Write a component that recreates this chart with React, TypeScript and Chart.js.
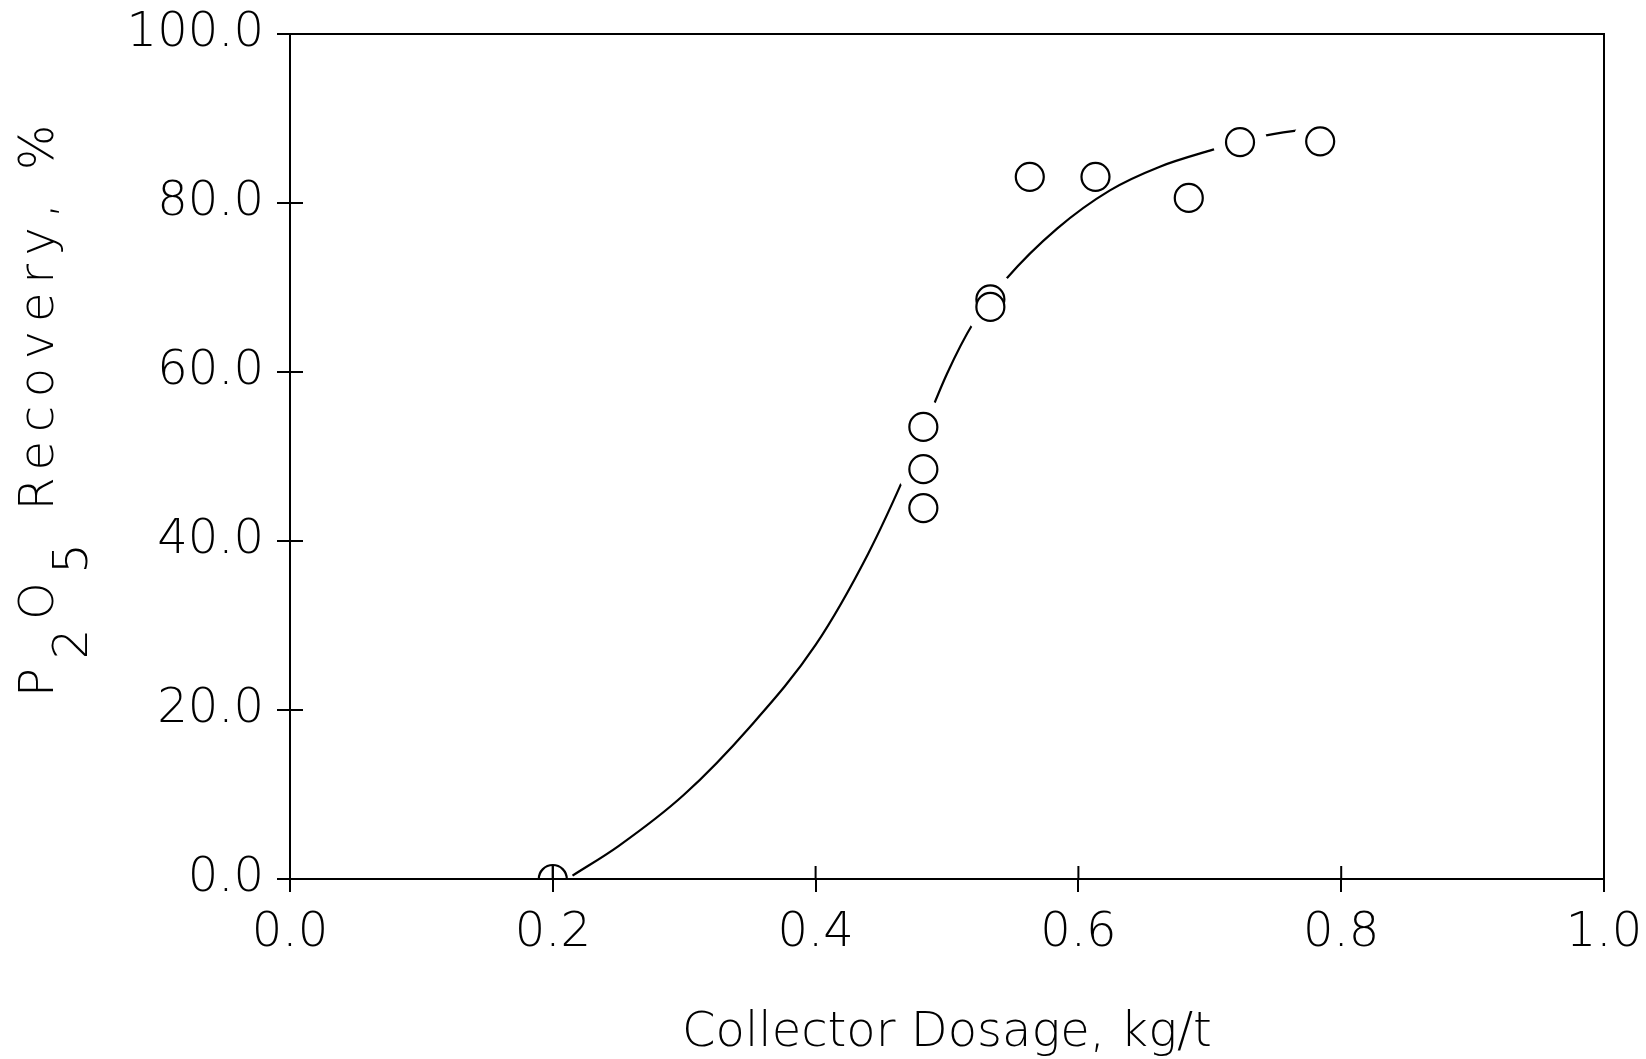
import React, { useEffect, useRef } from 'react';
import { Chart, registerables } from 'chart.js';

Chart.register(...registerables);

// Measured data points (Collector dosage kg/t vs P2O5 recovery %)
const dosage = [0.2, 0.482, 0.482, 0.482, 0.533, 0.533, 0.563, 0.613, 0.684, 0.723, 0.784];
const recovery = [0.0, 53.5, 48.5, 43.9, 68.6, 67.7, 83.1, 83.1, 80.6, 87.2, 87.3];
// points where the fitted curve is interrupted around the marker
const curveBreak = [false, true, true, true, true, true, false, false, false, true, true];

// Fitted curve
const fitDosage = [0.215, 0.25, 0.30, 0.35, 0.40, 0.44, 0.47, 0.50, 0.52, 0.545, 0.584, 0.624, 0.662, 0.70, 0.723, 0.737, 0.763, 0.784];
const fitRecovery = [0.4, 3.9, 10.0, 18.0, 27.7, 38.5, 48.5, 59.8, 65.8, 71.0, 77.0, 81.5, 84.3, 86.2, 87.2, 87.8, 88.5, 88.8];

const xTitle = 'Collector Dosage, kg/t';
// y title pieces: [text, isSubscript]
const yTitleParts: [string, boolean][] = [['P', false], ['2', true], ['O', false], ['5', true], [' Recovery, %', false]];

const FONT = '"DejaVu Sans", "Liberation Sans", sans-serif';

export default function App() {
  const ref = useRef<HTMLCanvasElement | null>(null);

  useEffect(() => {
    document.body.style.margin = '0';
    document.body.style.overflow = 'hidden';
    const canvas = ref.current;
    if (!canvas) return;

    const points = dosage.map((x, i) => ({ x, y: recovery[i] }));
    const maskPts = points.filter((_, i) => curveBreak[i]);
    const zeroPts = points.filter((p) => p.y === 0);
    const fit = fitDosage.map((x, i) => ({ x, y: fitRecovery[i] }));

    const framePlugin = {
      id: 'frame',
      afterDraw(chart: any) {
        const { ctx, chartArea: a } = chart;
        const xs = chart.scales.x;
        const ys = chart.scales.y;
        ctx.save();
        ctx.strokeStyle = '#000';
        ctx.lineWidth = 2;
        ctx.strokeRect(a.left, a.top, a.right - a.left, a.bottom - a.top);
        ctx.beginPath();
        xs.ticks.forEach((t: any) => {
          const p = xs.getPixelForValue(t.value);
          if (p > a.left + 2 && p < a.right - 2) {
            ctx.moveTo(p, a.bottom);
            ctx.lineTo(p, a.bottom - 13);
          }
        });
        ys.ticks.forEach((t: any) => {
          const p = ys.getPixelForValue(t.value);
          if (p > a.top + 2 && p < a.bottom - 2) {
            ctx.moveTo(a.left, p);
            ctx.lineTo(a.left + 13, p);
          }
        });
        ctx.stroke();

        // y axis title with subscripts
        ctx.fillStyle = '#000';
        ctx.font = `200 48px ${FONT}`;
        (ctx as any).letterSpacing = '8.7px';
        ctx.textBaseline = 'alphabetic';
        ctx.textAlign = 'left';
        ctx.translate(53, 697);
        ctx.rotate(-Math.PI / 2);
        let pos = 0;
        yTitleParts.forEach(([txt, sub]) => {
          ctx.fillText(txt, pos, sub ? 34 : 0);
          pos += ctx.measureText(txt).width;
        });
        ctx.restore();
      },
    };

    const chart = new Chart(canvas, {
      type: 'scatter',
      data: {
        datasets: [
          {
            label: 'Data',
            data: points,
            order: 0,
            pointStyle: 'circle',
            pointRadius: 14,
            pointHoverRadius: 14,
            borderColor: '#000',
            borderWidth: 2.2,
            backgroundColor: (c: any) => (c.raw && c.raw.y === 0 ? 'rgba(0,0,0,0)' : '#fff'),
          },
          {
            label: 'cross',
            data: zeroPts,
            order: 1,
            pointStyle: 'line',
            pointRotation: 90,
            pointRadius: 14,
            borderColor: '#000',
            borderWidth: 2,
          },
          {
            label: 'mask',
            data: maskPts,
            order: 2,
            pointStyle: 'circle',
            pointRadius: 27,
            borderWidth: 0,
            backgroundColor: '#fff',
            borderColor: '#fff',
          },
          {
            label: 'Fit',
            data: fit,
            order: 3,
            showLine: true,
            pointRadius: 0,
            borderColor: '#000',
            borderWidth: 2.2,
            cubicInterpolationMode: 'monotone',
          } as any,
        ],
      },
      options: {
        animation: false,
        responsive: false,
        events: [],
        layout: { padding: { left: 0, right: 42, top: 34, bottom: 0 } },
        plugins: { legend: { display: false }, tooltip: { enabled: false } },
        scales: {
          x: {
            type: 'linear',
            min: 0,
            max: 1,
            afterFit: (s: any) => {
              s.height = 180;
              s.paddingLeft = 0;
              s.paddingRight = 0;
            },
            ticks: {
              stepSize: 0.2,
              maxRotation: 0,
              padding: 13,
              color: '#000',
              font: { family: FONT, size: 48, weight: '200' as any },
              callback: (v: any) => Number(v).toFixed(1),
            },
            grid: { drawOnChartArea: false, drawTicks: true, tickLength: 13, color: '#000', lineWidth: 2 },
            border: { display: true, color: '#000', width: 2 },
            title: {
              display: true,
              text: xTitle,
              color: '#000',
              padding: { top: 0, bottom: -3 },
              font: { family: FONT, size: 48, weight: '200' as any },
            },
          },
          y: {
            type: 'linear',
            min: 0,
            max: 100,
            afterFit: (s: any) => {
              s.width = 290;
              s.paddingTop = 0;
              s.paddingBottom = 0;
            },
            ticks: {
              stepSize: 20,
              padding: 13,
              color: '#000',
              font: { family: FONT, size: 48, weight: '200' as any },
              callback: (v: any) => Number(v).toFixed(1),
            },
            grid: { drawOnChartArea: false, drawTicks: true, tickLength: 13, color: '#000', lineWidth: 2 },
            border: { display: true, color: '#000', width: 2 },
          },
        },
      },
      plugins: [framePlugin],
    });

    return () => chart.destroy();
  }, []);

  return (
    <div style={{ width: 1646, height: 1059, background: '#fff' }}>
      <canvas ref={ref} width={1646} height={1059} style={{ display: 'block' }} />
    </div>
  );
}
